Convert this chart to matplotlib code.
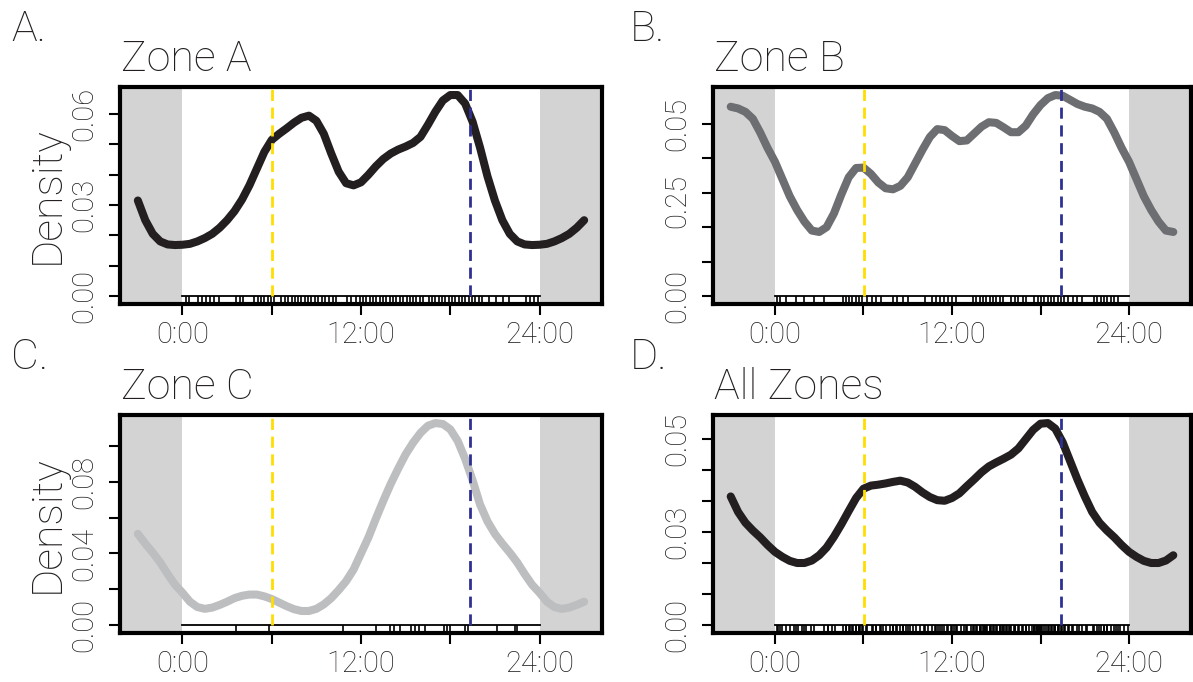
import numpy as np
import matplotlib.pyplot as plt

plt.rcParams['font.family'] = ['Roboto', 'DejaVu Sans']
plt.rcParams['font.weight'] = 'light'
plt.rcParams['text.color'] = '#231f20'
plt.rcParams['xtick.labelcolor'] = '#231f20'
plt.rcParams['ytick.labelcolor'] = '#231f20'

W, H = 1193, 682

# density estimates, every half hour from 0:00 to 23:30
zone_a = [0.0169, 0.0172, 0.0180, 0.0191, 0.0205, 0.0225, 0.0250, 0.0280,
          0.0318, 0.0365, 0.0420, 0.0475, 0.0515, 0.0535, 0.0553, 0.0572,
          0.0588, 0.0595, 0.0578, 0.0535, 0.0470, 0.0410, 0.0372, 0.0365,
          0.0375, 0.0400, 0.0428, 0.0452, 0.0470, 0.0483, 0.0493, 0.0505,
          0.0525, 0.0565, 0.0608, 0.0645, 0.0663, 0.0663, 0.0635, 0.0575,
          0.0490, 0.0395, 0.0315, 0.0250, 0.0205, 0.0180, 0.0170, 0.0168]
zone_b = [0.0390, 0.0340, 0.0290, 0.0250, 0.0216, 0.0190, 0.0186, 0.0200,
          0.0240, 0.0295, 0.0345, 0.0372, 0.0373, 0.0355, 0.0330, 0.0313,
          0.0310, 0.0320, 0.0345, 0.0385, 0.0425, 0.0462, 0.0485, 0.0482,
          0.0465, 0.0450, 0.0452, 0.0472, 0.0492, 0.0505, 0.0503, 0.0490,
          0.0476, 0.0476, 0.0495, 0.0528, 0.0555, 0.0575, 0.0584, 0.0582,
          0.0570, 0.0558, 0.0550, 0.0545, 0.0535, 0.0515, 0.0475, 0.0430]
zone_c = [0.0180, 0.0130, 0.0100, 0.0090, 0.0097, 0.0112, 0.0130, 0.0150,
          0.0163, 0.0170, 0.0170, 0.0160, 0.0145, 0.0125, 0.0105, 0.0088,
          0.0078, 0.0078, 0.0090, 0.0115, 0.0150, 0.0195, 0.0245, 0.0310,
          0.0400, 0.0490, 0.0595, 0.0695, 0.0790, 0.0875, 0.0955, 0.1020,
          0.1075, 0.1115, 0.1130, 0.1125, 0.1095, 0.1030, 0.0930, 0.0810,
          0.0675, 0.0580, 0.0510, 0.0455, 0.0405, 0.0350, 0.0285, 0.0225]
all_zones = [0.0236, 0.0220, 0.0207, 0.0200, 0.0200, 0.0208, 0.0225, 0.0250,
             0.0285, 0.0325, 0.0368, 0.0410, 0.0440, 0.0450, 0.0453, 0.0457,
             0.0462, 0.0466, 0.0460, 0.0446, 0.0428, 0.0413, 0.0403, 0.0401,
             0.0410, 0.0425, 0.0448, 0.0470, 0.0493, 0.0512, 0.0525, 0.0537,
             0.0550, 0.0570, 0.0600, 0.0630, 0.0650, 0.0652, 0.0634, 0.0590,
             0.0530, 0.0470, 0.0415, 0.0365, 0.0330, 0.0305, 0.0283, 0.0258]

# detection times (hours) for the rug
rug_a = [0.22, 0.47, 1.03, 1.30, 1.57, 1.84, 2.11, 2.43, 3.62, 3.84, 4.07,
         4.83, 5.06, 5.28, 5.51, 5.73, 5.96, 6.18, 6.65, 6.88, 7.10, 7.33,
         7.55, 7.78, 8.00, 8.22, 8.45, 8.67, 8.90, 9.12, 9.35, 9.57, 9.84,
         10.11, 10.34, 11.08, 11.35, 11.64, 11.91, 12.13, 12.36, 12.58, 12.81,
         13.03, 13.26, 13.48, 13.71, 13.93, 14.16, 14.38, 14.61, 14.83, 15.06,
         15.28, 15.51, 15.73, 15.96, 16.19, 16.54, 16.76, 16.99, 17.21, 17.44,
         17.66, 17.89, 18.11, 18.34, 18.56, 18.79, 19.01, 19.24, 19.46, 19.69,
         19.91, 20.13, 20.63, 21.08, 21.57, 21.98, 23.10, 23.37, 23.64, 23.91]
rug_b = [0.13, 0.31, 0.72, 1.44, 2.00, 2.67, 3.34, 4.58, 4.80, 5.02, 5.25,
         5.47, 5.70, 5.92, 6.26, 6.55, 6.82, 7.16, 8.01, 8.28, 8.66, 9.02,
         10.14, 10.63, 10.90, 11.17, 11.44, 11.75, 12.02, 12.25, 13.44, 13.66,
         13.89, 14.11, 14.33, 14.56, 14.78, 15.01, 15.23, 15.46, 16.02, 16.24,
         16.46, 16.80, 17.03, 17.59, 17.81, 18.03, 18.26, 18.48, 18.71, 18.93,
         19.16, 19.38, 19.61, 19.87, 20.17, 20.50, 20.84, 21.62, 21.85, 22.07,
         22.30, 22.52, 22.75, 22.97, 23.24]
rug_c = [3.60, 5.79, 10.82, 12.98, 13.96, 14.22, 14.60, 15.37, 15.63, 15.89,
         16.28, 17.56, 17.77, 17.95, 18.98, 19.16, 21.17, 22.33, 22.51]
rug_all = sorted(rug_a + rug_b + rug_c)

sunrise = 6.05
sunset = 19.36

titles = ['Zone A', 'Zone B', 'Zone C', 'All Zones']
letters = ['A.', 'B.', 'C.', 'D.']
densities = [zone_a, zone_b, zone_c, all_zones]
rugs = [rug_a, rug_b, rug_c, rug_all]
colors = ['#231f20', '#6d6e71', '#bcbec0', '#231f20']
yticks = [[0, 0.01, 0.02, 0.03, 0.04, 0.05, 0.06],
          [0, 0.01, 0.02, 0.03, 0.04, 0.05],
          [0, 0.02, 0.04, 0.06, 0.08, 0.10],
          [0, 0.01, 0.02, 0.03, 0.04, 0.05, 0.06]]
ylab_pos = [[0, 0.03, 0.06], [0, 0.0275, 0.05], [0, 0.04, 0.08], [0, 0.03, 0.06]]
ylab_txt = [['0.00', '0.03', '0.06'], ['0.00', '0.25', '0.05'],
            ['0.00', '0.04', '0.08'], ['0.00', '0.03', '0.05']]
xtick_pos = [0, 6, 12, 18, 24]
xtick_txt = ['0:00', '', '12:00', '', '24:00']

# panel boxes in pixels: left, top, right, bottom
boxes = [(120, 87, 602, 304), (713, 87, 1191, 304),
         (120, 415, 602, 633), (713, 415, 1191, 633)]

fig = plt.figure(figsize=(W / 100, H / 100), dpi=100)


def wrap(dens):
    idx = np.arange(-6, 55)
    return idx * 0.5, np.asarray(dens)[idx % 48]


for i in range(4):
    l, t, r, b = boxes[i]
    ax = fig.add_axes([l / W, 1 - b / H, (r - l) / W, (b - t) / H])
    x, y = wrap(densities[i])
    m = y.max()
    ymin, ymax = -0.04 * m, 1.04 * m
    ax.set_xlim(-4.2, 28.2)
    ax.set_ylim(ymin, ymax)

    ax.axvspan(-4.2, 0, color='#d3d3d3', lw=0, zorder=0)
    ax.axvspan(24, 28.2, color='#d3d3d3', lw=0, zorder=0)

    ax.plot([0, 24], [0, 0], color='black', lw=1.3, zorder=2)
    ax.vlines(rugs[i], ymin, 0, color='black', lw=1.2, zorder=2)

    ax.plot(x, y, color=colors[i], lw=5.8, solid_capstyle='round',
            solid_joinstyle='round', zorder=3)

    ax.plot([sunrise, sunrise], [0, ymax], color='#ffdd00', lw=2,
            dashes=(4, 2.4), zorder=4)
    ax.plot([sunset, sunset], [0, ymax], color='#2e3192', lw=2,
            dashes=(4, 2.4), zorder=4)

    for s in ax.spines.values():
        s.set_linewidth(3)
        s.set_color('black')

    ax.set_xticks(xtick_pos)
    ax.set_xticklabels(xtick_txt)
    ax.tick_params(axis='x', length=8, width=1.5, pad=4, labelsize=21)

    ax.yaxis.remove_overlapping_locs = False
    ax.set_yticks(yticks[i], minor=True)
    ax.set_yticks(ylab_pos[i])
    ax.set_yticklabels(ylab_txt[i])
    ax.tick_params(axis='y', which='minor', length=8, width=1.5)
    ax.tick_params(axis='y', which='major', length=8, width=0, pad=8,
                   labelsize=21)
    for lab in ax.get_yticklabels():
        lab.set_rotation(90)
        lab.set_va('center')
        lab.set_ha('right')

    tx = l + 1
    ty = t - 16
    fig.text(tx / W, 1 - ty / H, titles[i], fontsize=31, va='baseline',
             ha='left')
    lx = 11 if i % 2 == 0 else 630
    ly = t - 46
    fig.text(lx / W, 1 - ly / H, letters[i], fontsize=31, va='baseline',
             ha='left')
    if i % 2 == 0:
        fig.text(47 / W, 1 - ((t + b) / 2) / H, 'Density', fontsize=31,
                 rotation=90, va='center', ha='center')

fig.savefig('out.png', dpi=100)
